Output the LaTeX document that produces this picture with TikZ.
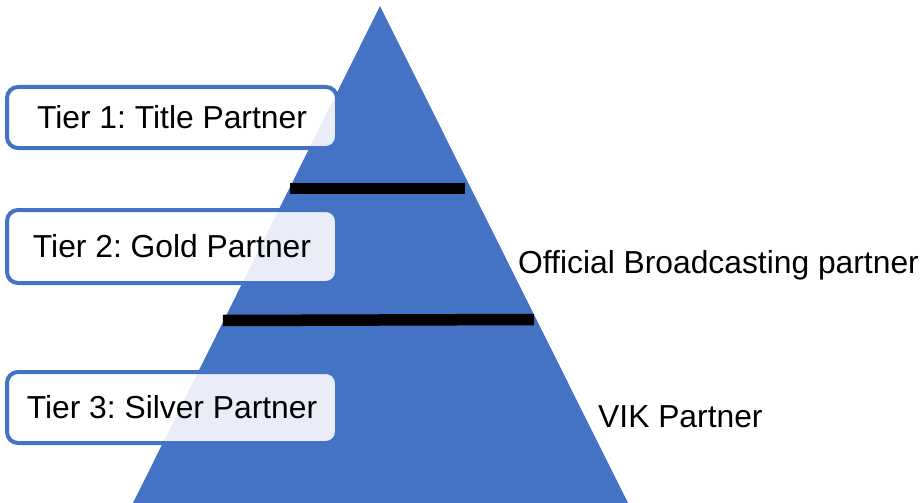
\documentclass[tikz,border=0pt]{standalone}
\usepackage{fontspec}
\setmainfont{Liberation Sans}
\frenchspacing
\definecolor{tri}{HTML}{4472C4}
\begin{document}
\begin{tikzpicture}[x=1pt,y=-1pt,
  tierbox/.style={draw=tri, line width=4pt, rounded corners=11pt, fill=white, fill opacity=0.88, text opacity=1,
    minimum width=330pt, inner sep=0pt, font=\fontsize{31.8}{37}\selectfont, text=black},
  sidelabel/.style={anchor=west, inner sep=0pt, font=\fontsize{31.8}{37}\selectfont, text=black},
  divider/.style={line width=11.5pt, black}]
\useasboundingbox (0,0) rectangle (924,503);
\coordinate (apex) at (380,6);
\coordinate (bl) at (133,503);
\coordinate (br) at (628,503);
\fill[tri] (apex) -- (br) -- (bl) -- cycle;
\coordinate (d1a) at (290,188.5);
\coordinate (d1b) at (465,188.5);
\coordinate (d2a) at (223,320.5);
\coordinate (d2b) at (534,319.5);
\draw[divider] (d1a) -- (d1b);
\draw[divider] (d2a) -- (d2b);
\node[tierbox, minimum height=61pt] (t1) at (172,117.5) {Tier 1: Title Partner};
\node[tierbox, minimum height=73pt] (t2) at (172,246.5) {Tier 2: Gold Partner};
\node[tierbox, minimum height=71pt] (t3) at (172,407.5) {Tier 3: Silver Partner};
\node[sidelabel] (obp) at (518,265.5) {Official Broadcasting partner};
\node[sidelabel] (vik) at (598,416.5) {VIK Partner};
\end{tikzpicture}
\end{document}
